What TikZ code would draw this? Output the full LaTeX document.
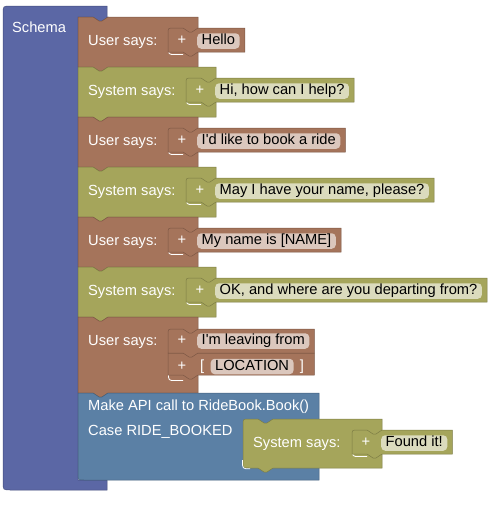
\documentclass[tikz,border=0pt]{standalone}
\usepackage{fontspec}
\newfontfamily\blockfont{Liberation Sans}
\usetikzlibrary{backgrounds,calc}
\definecolor{schemaC}{HTML}{5B67A5}
\definecolor{userC}{HTML}{A5745B}
\definecolor{sysC}{HTML}{A5A55B}
\definecolor{apiC}{HTML}{5B80A5}
\colorlet{userP}{userC!40!white}
\colorlet{sysP}{sysC!40!white}

% parent block: x, top, right, height, colour
\newcommand\parentblock[5]{%
  \path[blk=#5] (#1,#2) -- ({#1+15},#2) -- ({#1+21},{#2+4}) -- ({#1+24},{#2+4}) -- ({#1+30},#2)
    -- (#3,#2) -- (#3,{#2+#4}) -- ({#1+30},{#2+#4}) -- ({#1+24},{#2+#4+4}) -- ({#1+21},{#2+#4+4})
    -- ({#1+15},{#2+#4}) -- (#1,{#2+#4}) -- cycle;}
% inner block: left x, top, bottom, colour, node giving right end
\newcommand\innerblock[5]{%
  \path (0,{#2}) coordinate (yA) (0,{#3}) coordinate (yB);
  \path[blk=#4] ({#1},{#3}) -- ({#1},{#2+6}) .. controls ({#1},{#2}) .. ({#1+6},{#2})
    -- ({#1+15},{#2}) -- ({#1+21},{#2+4}) -- ({#1+24},{#2+4}) -- ({#1+30},{#2})
    -- ($(#5.east |- yA)+(5,0)$) -- ($(#5.east |- yB)+(5,0)$)
    -- ({#1+30},{#3}) -- ({#1+24},{#3+4}) -- ({#1+21},{#3+4}) -- ({#1+15},{#3}) -- cycle;}
% highlight of a statement input: left x, bottom y
\newcommand\hilite[2]{%
  \draw[white, line width=0.8pt] ({#1+0.5},{#2-8}) .. controls ({#1+0.5},{#2-0.5}) .. ({#1+7},{#2-0.5}) -- ({#1+15},{#2-0.5});}
% standard one-line row: name, top, colour prefix, right, label, text
\newcommand\stdrow[6]{%
  \begin{scope}[on background layer]
    \parentblock{78}{#2}{#4}{50}{#3C}
    \hilite{#4-30}{#2+38}
  \end{scope}
  \node[lbl] (#1l) at (88,{#2+24.5}) {#5};
  \node[lbl,anchor=center] (#1plus) at ({#4-16},{#2+24}) {+};
  \node[pill=#3P] (#1p) at ({#4-1},{#2+24}) {#6};
  \begin{scope}[on background layer]
    \innerblock{#4-30}{#2+11}{#2+35}{#3C}{#1p}
  \end{scope}}

\begin{document}
\begin{tikzpicture}[x=1pt,y=-1pt,
  blk/.style={fill=#1, draw=#1!75!black, line width=0.5pt},
  lbl/.style={text=white, anchor=west, inner sep=0pt, text height=10.5pt, text depth=3pt,
    font=\blockfont\fontsize{14.67}{17}\selectfont},
  pill/.style={fill=#1, rounded corners=4pt, anchor=west, inner xsep=4.5pt, inner ysep=1pt,
    text height=10.5pt, text depth=3pt, text=black,
    font=\blockfont\fontsize{14.67}{17}\selectfont}]
\useasboundingbox (0,0) rectangle (496,506);

% Schema block
\begin{scope}[on background layer]
  \path[blk=schemaC] (3,14) .. controls (3,6) .. (11,6) -- (107,6) -- (107,17) -- (108,17)
    -- (102,21) -- (99,21) -- (93,17) -- (78,17) -- (78,480) -- (107,480) -- (107,490)
    -- (11,490) .. controls (3,490) .. (3,482) -- cycle;
\end{scope}
\node[lbl] (schema) at (12,29) {Schema};

\stdrow{ra}{17}{user}{198}{User says:}{Hello}
\stdrow{rb}{67}{sys}{216}{System says:}{Hi, how can I help?}
\stdrow{rc}{117}{user}{198}{User says:}{I'd like to book a ride}
\stdrow{rd}{167}{sys}{216}{System says:}{May I have your name, please?}
\stdrow{re}{217}{user}{198}{User says:}{My name is [NAME]}
\stdrow{rf}{267}{sys}{216}{System says:}{OK, and where are you departing from?}

% two-line user row
\begin{scope}[on background layer]
  \parentblock{78}{317}{198}{76}{userC}
  \hilite{168}{381}
\end{scope}
\node[lbl] (rgl) at (88,341.5) {User says:};
\node[lbl,anchor=center] (rgplusA) at (182,341) {+};
\node[pill=userP] (rgp) at (197,341) {I'm leaving from};
\node[lbl,anchor=center] (rgplusB) at (182,366.5) {+};
\node[lbl] (rglb) at (200,366.5) {[};
\node[pill=userP] (rgloc) at ($(rglb.east)+(6,0)$) {LOCATION};
\node[lbl] (rgrb) at ($(rgloc.east)+(6,0)$) {]};
\begin{scope}[on background layer]
  \path (0,353) coordinate (yC) (0,375) coordinate (yD);
  \path[blk=userC] (168,353) -- ($(rgp.east |- yC)+(5,0)$) -- ($(rgp.east |- yD)+(5,0)$)
    -- (198,375) -- (192,379) -- (189,379) -- (183,375) -- (168,375) -- cycle;
  \innerblock{168}{329}{353}{userC}{rgp}
\end{scope}

% API block
\begin{scope}[on background layer]
  \path[blk=apiC] (78,393) -- (93,393) -- (99,397) -- (102,397) -- (108,393) -- (319,393)
    -- (319,480) -- (84,480) .. controls (78,480) .. (78,474) -- cycle;
  \path[blk=sysC] (243,425) .. controls (243,419) .. (249,419) -- (258,419) -- (264,423)
    -- (267,423) -- (273,419) -- (382,419) -- (382,468) -- (273,468) -- (267,472)
    -- (264,472) -- (258,468) -- (249,468) .. controls (243,468) .. (243,462) -- cycle;
  \draw[white, line width=0.8pt] (242.4,460) .. controls (242.4,468.8) .. (250,468.8);
  \hilite{352}{457}
\end{scope}
\node[lbl] (api1) at (88,406.5) {Make API call to RideBook.Book()};
\node[lbl] (api2) at (88,431.5) {Case RIDE\_BOOKED};
\node[lbl] (nsl) at (253,443.5) {System says:};
\node[lbl,anchor=center] (nsplus) at (366,443) {+};
\node[pill=sysP] (nsp) at (381,443) {Found it!};
\begin{scope}[on background layer]
  \innerblock{352}{430}{454}{sysC}{nsp}
\end{scope}
\end{tikzpicture}
\end{document}
